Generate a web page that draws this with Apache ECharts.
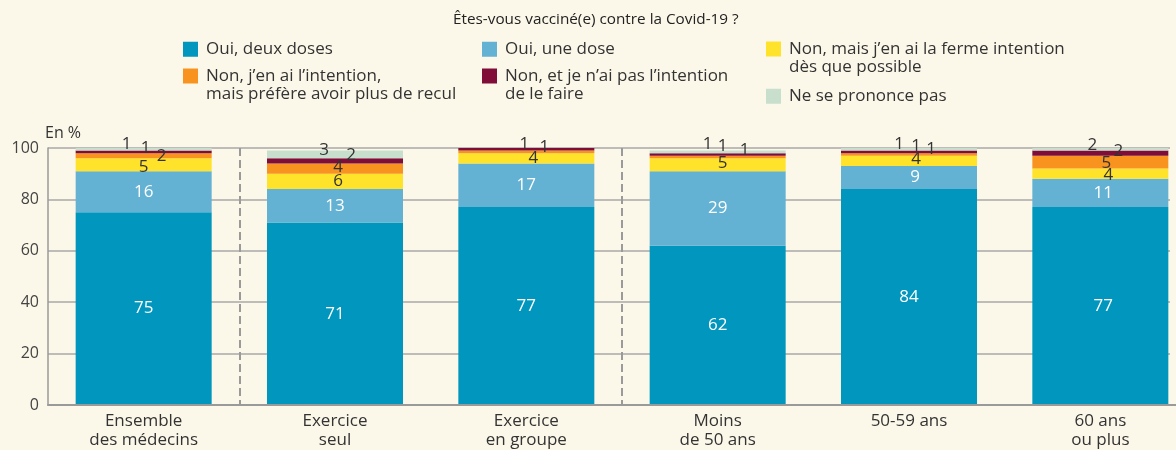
<!DOCTYPE html>
<html>
<head>
<meta charset="utf-8">
<script src="https://cdn.jsdelivr.net/npm/echarts@6/dist/echarts.min.js"></script>
<style>
html,body{margin:0;padding:0;background:#FCF8E9;}
#chart{width:1176px;height:450px;}
</style>
</head>
<body>
<div id="chart"></div>
<script>
const titleText = 'Êtes-vous vacciné(e) contre la Covid-19 ?';
const categories = ['Ensemble\ndes médecins', 'Exercice\nseul', 'Exercice\nen groupe', 'Moins\nde 50 ans', '50-59 ans', '60 ans\nou plus'];
const seriesNames = [
  'Oui, deux doses',
  'Oui, une dose',
  'Non, mais j\u2019en ai la ferme intention\ndès que possible',
  'Non, j\u2019en ai l\u2019intention,\nmais préfère avoir plus de recul',
  'Non, et je n\u2019ai pas l\u2019intention\nde le faire',
  'Ne se prononce pas'
];
const deuxDoses      = [75, 71, 77, 62, 84, 77];
const uneDose        = [16, 13, 17, 29, 9, 11];
const fermeIntention = [5, 6, 4, 5, 4, 4];
const recul          = [2, 4, 1, 1, 1, 5];
const pasIntention   = [1, 2, 1, 1, 1, 2];
const nonPrononce    = [1, 3, 0, 1, 1, 2];
const yTicks = [0, 20, 40, 60, 80, 100];

// styling
const colors = ['#0096BD', '#63B1D3', '#FFE32A', '#F7931E', '#7F0D38', '#C9DFCE'];
const labelColors = ['#ffffff', '#ffffff', '#333333', '#333333', '#333333', '#333333'];
// label offsets [dx, dy] per series per category (styling only)
const labelOffsets = [
  [[0,0],[0,0],[0,0],[0,0],[0,0],[3,0]],
  [[0,0],[0,0],[0,0],[0,0],[6,0],[3,0]],
  [[0,2],[3,0],[7,0],[5,-2],[7,-2],[8,1]],
  [[18,0],[3,-1],[-2,-8],[27,-7],[22,-5],[6,1]],
  [[2,-4],[16,-6],[18,-2],[5,-8],[7,-6],[18,-2]],
  [[-17,-5],[-11,-4],[0,0],[-10,-8],[-10,-5],[-8,-4]]
];
const LH = 18.5;
const twoLineIcon = 'path://M0,0L0.01,0L0.01,0.01Z M0,2L15,2L15,17L0,17Z M0,37L0.01,37L0.01,37.01Z';
const legendPos = [
  {left: 183, top: 40, lines: 1},
  {left: 482, top: 40, lines: 1},
  {left: 766, top: 39.5, lines: 2},
  {left: 183, top: 66.5, lines: 2},
  {left: 482, top: 66.5, lines: 2},
  {left: 766, top: 87, lines: 1}
];
const FONT = '"Open Sans", sans-serif';
const allValues = [deuxDoses, uneDose, fermeIntention, recul, pasIntention, nonPrononce];

const chart = echarts.init(document.getElementById('chart'));

const series = allValues.map((vals, si) => ({
  name: seriesNames[si],
  type: 'bar',
  stack: 'total',
  barWidth: 136,
  xAxisIndex: 0,
  yAxisIndex: 0,
  itemStyle: {color: colors[si]},
  data: vals.map((v, ci) => ({
    value: v,
    label: {
      show: v > 0,
      position: 'inside',
      offset: labelOffsets[si][ci],
      color: labelColors[si],
      fontSize: 17,
      fontFamily: FONT,
      formatter: '{c}'
    }
  }))
}));

const legends = legendPos.map((p, i) => ({
  data: [seriesNames[i]],
  left: p.left,
  top: p.top,
  padding: 0,
  orient: 'vertical',
  icon: p.lines === 2 ? twoLineIcon : 'rect',
  itemWidth: 15,
  itemHeight: p.lines === 2 ? 37 : 15,
  selectedMode: false,
  textStyle: {
    fontFamily: FONT,
    fontSize: 17,
    color: '#333',
    lineHeight: LH,
    padding: [0, 0, 0, 3]
  }
}));

const option = {
  backgroundColor: '#FCF8E9',
  animation: false,
  color: colors,
  title: {
    text: titleText,
    left: 453,
    top: 12,
    padding: 0,
    textStyle: {fontFamily: FONT, fontSize: 15.3, fontWeight: 'normal', color: '#222'}
  },
  legend: legends,
  grid: [
    {left: 48, top: 148, height: 257, width: 1148, outerBoundsMode: 'none', containLabel: false},
    {left: 48, top: 148, height: 257, right: 6, outerBoundsMode: 'none', containLabel: false}
  ],
  xAxis: [
    {
      type: 'category',
      gridIndex: 0,
      data: categories,
      axisLine: {show: true, lineStyle: {color: '#9a9a9a', width: 2}},
      axisTick: {show: false},
      axisLabel: {
        fontFamily: FONT, fontSize: 17, color: '#333', lineHeight: LH, margin: 7
      },
      splitLine: {
        show: true,
        interval: function (index) { return index === 1 || index === 3; },
        lineStyle: {color: '#9a9a9a', width: 2, type: [8, 4]}
      },
      z: 3
    },
    {
      type: 'value', gridIndex: 1, min: 0, max: 1, show: false
    }
  ],
  yAxis: [
    {
      type: 'value',
      gridIndex: 0,
      min: yTicks[0],
      max: yTicks[yTicks.length - 1],
      interval: yTicks[1] - yTicks[0],
      name: 'En %',
      nameLocation: 'end',
      nameGap: 7,
      nameTextStyle: {fontFamily: FONT, fontSize: 16, color: '#333', align: 'left', padding: [0, 0, 0, -3]},
      axisLine: {show: true, lineStyle: {color: '#9a9a9a', width: 1.5}},
      axisTick: {show: false},
      axisLabel: {fontFamily: FONT, fontSize: 16, color: '#444', margin: 9},
      splitLine: {show: false}
    },
    {
      type: 'value',
      gridIndex: 1,
      min: yTicks[0],
      max: yTicks[yTicks.length - 1],
      interval: yTicks[1] - yTicks[0],
      axisLine: {show: false},
      axisTick: {show: false},
      axisLabel: {show: false},
      splitLine: {show: true, lineStyle: {color: '#a8a8a8', width: 1.5}}
    }
  ],
  series: series
};
chart.setOption(option);
</script>
</body>
</html>
